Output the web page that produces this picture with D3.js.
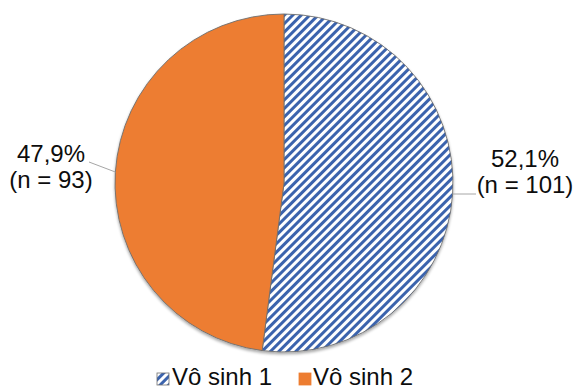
<!DOCTYPE html>
<html>
<head>
<meta charset="utf-8">
<script src="https://cdn.jsdelivr.net/npm/d3@7/dist/d3.min.js"></script>
<style>
  html, body { margin: 0; padding: 0; background: #fff; }
  svg { display: block; font-family: "Liberation Sans", Arial, sans-serif; }
</style>
</head>
<body>
<svg id="chart" width="578" height="389"></svg>
<script>
// Infertility groups and patient counts
const groups = ["Vô sinh 1", "Vô sinh 2"];
const counts = [101, 93];
const percents = ["52,1%", "47,9%"];
const countLabels = ["(n = 101)", "(n = 93)"];

const W = 578, H = 389;
const cx = 284, cy = 183, R = 169;
const fontSize = 24;

const svg = d3.select("#chart");
const defs = svg.append("defs");

// wide upward diagonal hatch
const pat = defs.append("pattern")
  .attr("id", "hatch")
  .attr("patternUnits", "userSpaceOnUse")
  .attr("width", 6).attr("height", 6)
  .attr("patternTransform", "rotate(45)");
pat.append("rect").attr("width", 6).attr("height", 6).attr("fill", "#ffffff");
pat.append("rect").attr("x", 0).attr("width", 3).attr("height", 6).attr("fill", "#3b63ad");

const shadow = defs.append("filter").attr("id", "soft")
  .attr("x", "-10%").attr("y", "-10%").attr("width", "120%").attr("height", "125%");
shadow.append("feGaussianBlur").attr("in", "SourceAlpha").attr("stdDeviation", 1.6);
shadow.append("feOffset").attr("dy", 1.5).attr("result", "b");
shadow.append("feComponentTransfer").append("feFuncA").attr("type", "linear").attr("slope", 0.35);
const merge = shadow.append("feMerge");
merge.append("feMergeNode");
merge.append("feMergeNode").attr("in", "SourceGraphic");

const fills = ["url(#hatch)", "#ed7d31"];

const pie = d3.pie().sort(null).value(d => d)(counts);
const arc = d3.arc().innerRadius(0).outerRadius(R);

const g = svg.append("g").attr("transform", `translate(${cx},${cy})`);
g.append("g").attr("filter", "url(#soft)")
  .selectAll("path")
  .data(pie)
  .join("path")
  .attr("d", arc)
  .attr("fill", (d, i) => fills[i])
  .attr("stroke", "#6f6f6f")
  .attr("stroke-width", 0.9);

// data labels; leader lines meet the rim at height edgeDy below/above centre
const labelPos = [
  { x: 525, y: 167, lx: 476, ly: 194, edgeDy: 11, side: 1 },
  { x: 51, y: 162, lx: 89, ly: 162, edgeDy: -11, side: -1 }
];
pie.forEach((d, i) => {
  const p = labelPos[i];
  const ey = cy + p.edgeDy;
  const ex = cx + p.side * Math.sqrt(R * R - p.edgeDy * p.edgeDy);
  svg.append("line")
    .attr("x1", ex).attr("y1", ey)
    .attr("x2", p.lx).attr("y2", p.ly)
    .attr("stroke", "#a6a6a6").attr("stroke-width", 1);
  const t = svg.append("text")
    .attr("text-anchor", "middle")
    .attr("font-size", fontSize)
    .attr("fill", "#0d0d0d");
  t.append("tspan").attr("x", p.x).attr("y", p.y).text(percents[i]);
  t.append("tspan").attr("x", p.x).attr("y", p.y + 26).text(countLabels[i]);
});

// legend
const legendItems = [
  { sx: 157, tx: 172 },
  { sx: 299, tx: 313 }
];
const leg = svg.append("g");
groups.forEach((name, i) => {
  const it = legendItems[i];
  leg.append("rect")
    .attr("x", it.sx).attr("y", 373).attr("width", 12).attr("height", 12)
    .attr("fill", fills[i])
    .attr("stroke", i === 0 ? "#6f6f6f" : "#ed7d31")
    .attr("stroke-width", 0.8);
  leg.append("text")
    .attr("x", it.tx).attr("y", 385)
    .attr("font-size", fontSize)
    .attr("fill", "#0d0d0d")
    .text(name);
});
</script>
</body>
</html>
